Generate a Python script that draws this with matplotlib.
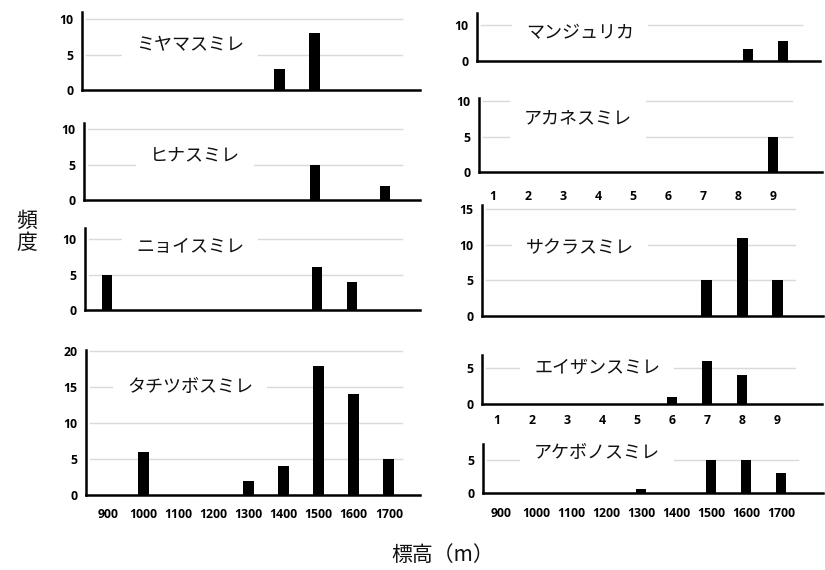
import matplotlib
matplotlib.use("Agg")
import matplotlib.pyplot as plt

plt.rcParams['font.family'] = ['Noto Sans CJK JP', 'DejaVu Sans']

# ---- data ----
elev_labels = ['900', '1000', '1100', '1200', '1300', '1400', '1500', '1600', '1700']
index_labels = ['1', '2', '3', '4', '5', '6', '7', '8', '9']

miyama = [0, 0, 0, 0, 0, 3, 8, 0, 0]
hina = [0, 0, 0, 0, 0, 0, 5, 0, 2]
nioi = [5, 0, 0, 0, 0, 0, 6, 4, 0]
tachitsubo = [0, 6, 0, 0, 2, 4, 18, 14, 5]
manjurica = [0, 0, 0, 0, 0, 0, 0, 3.5, 5.6]
akane = [0, 0, 0, 0, 0, 0, 0, 0, 5]
sakura = [0, 0, 0, 0, 0, 0, 5, 11, 5]
eizan = [0, 0, 0, 0, 0, 1, 6, 4, 0]
akebono = [0, 0, 0, 0, 0.6, 0, 5, 5, 3]

W, H = 825, 570
fig = plt.figure(figsize=(W / 100, H / 100), dpi=100)
fig.patch.set_facecolor('white')

tick_font = dict(family=['Open Sans', 'DejaVu Sans'], weight='bold', size=8.8)


def panel(values, title, left, right, top, bottom, x0, sp, ppu, yticks,
          grid_end, title_xy, xlabels=None, xpad=10):
    ax = fig.add_axes([left / W, 1 - bottom / H, (right - left) / W, (bottom - top) / H])
    n = len(values)
    xs = list(range(n))
    ax.bar(xs, values, width=0.31, color='black', linewidth=0, zorder=3)
    ax.set_xlim((left - x0) / sp, (right - x0) / sp)
    ax.set_ylim(0, (bottom - top) / ppu)
    ax.set_facecolor('none')
    frac = (grid_end - left) / (right - left)
    for yv in yticks:
        if yv > 0:
            ax.axhline(yv, xmin=0.012, xmax=frac, color='#d9d9d9', lw=1.0, zorder=1)
    for s in ['top', 'right']:
        ax.spines[s].set_visible(False)
    for s in ['left', 'bottom']:
        ax.spines[s].set_linewidth(1.8)
        ax.spines[s].set_color('black')
    ax.set_yticks(yticks)
    ax.set_yticklabels([str(v) for v in yticks], fontdict=tick_font)
    ax.tick_params(axis='y', length=0, pad=6)
    if xlabels is not None:
        ax.set_xticks(xs)
        ax.set_xticklabels(xlabels, fontdict=tick_font)
        ax.tick_params(axis='x', length=0, pad=xpad)
    else:
        ax.set_xticks([])
    fig.text(title_xy[0] / W, 1 - title_xy[1] / H, title, ha='center', va='center',
             fontsize=13, color='#111111',
             bbox=dict(boxstyle='square,pad=0.75', fc='white', ec='none'), zorder=5)
    return ax


# left column
panel(miyama, 'ミヤマスミレ', 82, 420, 12, 90, 104, 35.1, 7.1, [0, 5, 10], 402, (190, 45))
panel(hina, 'ヒナスミレ', 84, 420, 123, 200, 105, 35.0, 7.1, [0, 5, 10], 402, (195, 155))
panel(nioi, 'ニョイスミレ', 85, 420, 228, 310, 107, 35.0, 7.1, [0, 5, 10], 402, (190, 247))
panel(tachitsubo, 'タチツボスミレ', 86, 420, 350, 495, 108, 35.1, 7.19,
      [0, 5, 10, 15, 20], 402, (190, 387), xlabels=elev_labels, xpad=9)

# right column
panel(manjurica, 'マンジュリカ', 477, 820, 13, 61, 503, 35.0, 3.57, [0, 10], 802, (580, 33))
panel(akane, 'アカネスミレ', 479, 822, 98, 172, 493, 35.0, 7.1, [0, 5, 10], 792, (578, 118),
      xlabels=index_labels, xpad=13)
panel(sakura, 'サクラスミレ', 482, 823, 205, 316, 495, 35.3, 7.13, [0, 5, 10, 15], 795, (580, 248))
panel(eizan, 'エイザンスミレ', 482, 822, 355, 404, 497, 35.0, 7.2, [0, 5], 795, (597, 368),
      xlabels=index_labels, xpad=7)
panel(akebono, 'アケボノスミレ', 483, 823, 444, 493, 501, 35.0, 6.6, [0, 5], 798, (597, 453),
      xlabels=elev_labels, xpad=10)

fig.text(27 / W, 1 - 232 / H, '頻\n度', ha='center', va='center', fontsize=15,
         linespacing=1.0, color='#111111')
fig.text(443 / W, 1 - 555 / H, '標高（m）', ha='center', va='center', fontsize=15,
         color='#111111')

fig.savefig('out.png', dpi=100, facecolor='white')
